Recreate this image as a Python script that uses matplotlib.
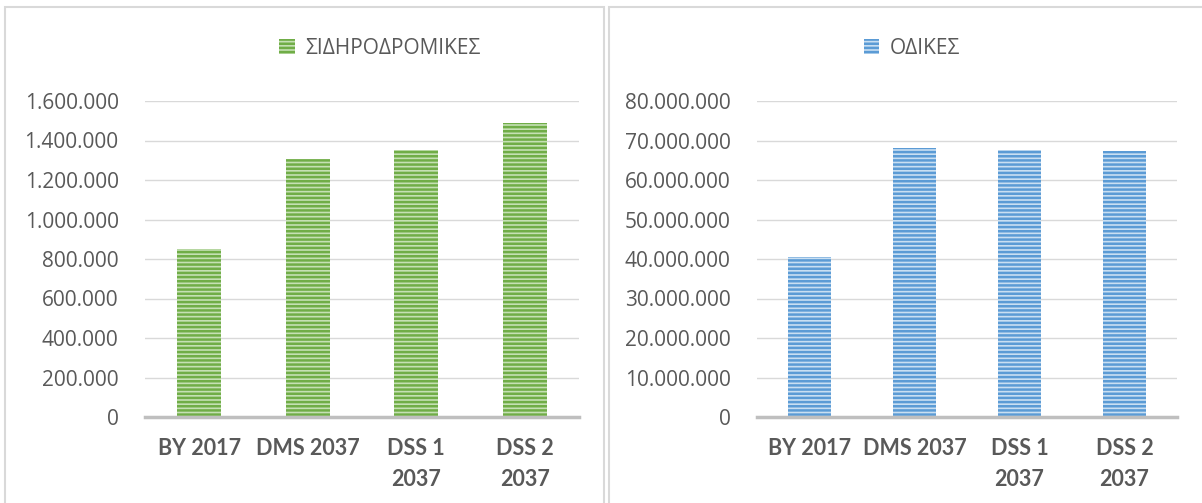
import matplotlib.pyplot as plt
from matplotlib.patches import Rectangle, Patch
from matplotlib.ticker import FuncFormatter, MultipleLocator

categories = ['BY 2017', 'DMS 2037', 'DSS 1\n2037', 'DSS 2\n2037']
rail_values = [850000, 1305000, 1352000, 1488000]
road_values = [40500000, 68000000, 67600000, 67300000]
rail_label = 'ΣΙΔΗΡΟΔΡΟΜΙΚΕΣ'
road_label = 'ΟΔΙΚΕΣ'

plt.rcParams['font.family'] = ['Open Sans', 'DejaVu Sans']
plt.rcParams['hatch.linewidth'] = 1.8

def dotted(v, pos):
	return f'{int(round(v)):,}'.replace(',', '.')

def panel(fig, rect, values, label, face, edge, ymax, step, legend_x):
	ax = fig.add_axes(rect)
	plt.rcParams['hatch.color'] = edge
	x = range(len(values))
	ax.bar(x, values, width=0.41, color=face, edgecolor=edge, hatch='----', linewidth=0, zorder=3)
	ax.set_xlim(-0.5, len(values) - 0.5)
	ax.set_ylim(0, ymax)
	ax.yaxis.set_major_locator(MultipleLocator(step))
	ax.yaxis.set_major_formatter(FuncFormatter(dotted))
	ax.grid(axis='y', color='#d9d9d9', linewidth=1, zorder=0)
	for s in ['top', 'right', 'left']:
		ax.spines[s].set_visible(False)
	ax.spines['bottom'].set_color('#bfbfbf')
	ax.spines['bottom'].set_linewidth(2.5)
	ax.spines['bottom'].set_zorder(4)
	ax.tick_params(length=0, labelsize=15, colors='#595959')
	ax.tick_params(axis='y', pad=19)
	ax.tick_params(axis='x', pad=15)
	ax.set_xticks(list(x))
	ax.set_xticklabels(categories, fontweight='bold', fontsize=15.5, color='#595959', linespacing=1.6,
					   family=['Lato', 'DejaVu Sans'])
	h = Patch(facecolor=face, edgecolor=edge, hatch='----', linewidth=0)
	fig.legend([h], [label], loc='center', bbox_to_anchor=(legend_x, 1 - 48 / 503), frameon=False,
			   fontsize=15, labelcolor='#595959', handlelength=0.75, handleheight=0.75, handletextpad=0.5)
	return ax

fig = plt.figure(figsize=(12.02, 5.03), dpi=100)
fig.patches.append(Rectangle((5 / 1202, -0.01), 599 / 1202, 1 - 7 / 503 + 0.01, transform=fig.transFigure,
							 fill=False, edgecolor='#d9d9d9', linewidth=1.5))
fig.patches.append(Rectangle((609 / 1202, -0.01), 600 / 1202, 1 - 7 / 503 + 0.01, transform=fig.transFigure,
							 fill=False, edgecolor='#d9d9d9', linewidth=1.5))

panel(fig, [145 / 1202, 86 / 503, 434 / 1202, 316 / 503], rail_values, rail_label,
	  '#c5e0b4', '#70ad47', 1600000, 200000, 380 / 1202)
panel(fig, [757 / 1202, 86 / 503, 420 / 1202, 316 / 503], road_values, road_label,
	  '#c9dff2', '#5b9bd5', 80000000, 10000000, 912 / 1202)

fig.savefig('out.png', dpi=100)
